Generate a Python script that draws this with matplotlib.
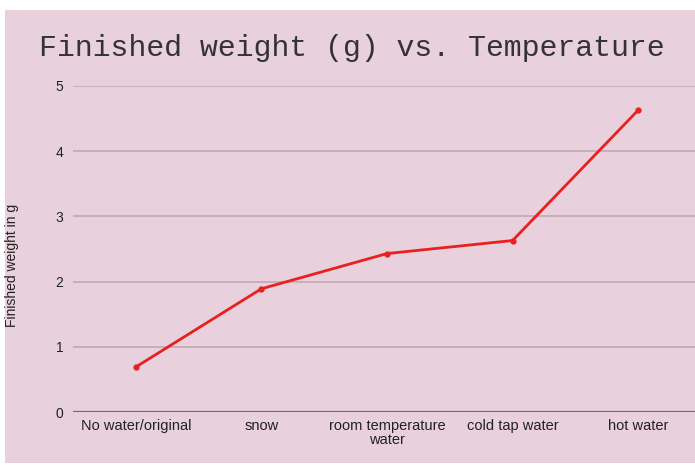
import numpy as np
import matplotlib.pyplot as plt
from matplotlib.patches import Rectangle

plt.rcParams.update({"font.family": ["Liberation Sans", "DejaVu Sans"]})

categories = ["No water/original", "snow", "room temperature\nwater",
              "cold tap water", "hot water"]
weights = [0.69, 1.89, 2.43, 2.63, 4.63]
yticks = [0, 1, 2, 3, 4, 5]

bg = "#e8d0dc"
W, H = 695, 465

fig = plt.figure(figsize=(W / 100, H / 100), dpi=100, facecolor="white")
# pink card with thin white border like the screenshot
fig.patches.append(Rectangle((5 / W, 2 / H), 1 - 5 / W, 1 - 12 / H,
                             transform=fig.transFigure, facecolor=bg,
                             edgecolor="none", zorder=-5))

# axes: x from 73px to ~701px, y from 412px (0) to 86px (5)
ax = fig.add_axes([73 / W, (H - 412) / H, (701 - 73) / W, (412 - 86) / H])
ax.set_facecolor("none")

x = np.arange(len(categories))
ax.plot(x, weights, color="#e8201f", lw=2, marker="o", ms=3.5, zorder=3)

ax.set_xlim(-0.5, len(categories) - 0.5)
ax.set_ylim(0, 5)
ax.set_yticks(yticks)
ax.set_xticks(x)
ax.set_xticklabels(categories, fontsize=10.5, color="#222222", linespacing=1.0)
ax.set_yticklabels([str(v) for v in yticks], fontsize=10, color="#222222")
ax.tick_params(length=0, pad=7)
ax.tick_params(axis="x", pad=5)

for v in yticks[1:]:
    ax.axhline(v, color="#c4a6b3", lw=1.2, zorder=1)
ax.axhline(0, color="#7a6670", lw=1.6, zorder=2)
for s in ax.spines.values():
    s.set_visible(False)

fig.text(12 / W, 1 - 265 / H, "Finished weight in g", rotation=90,
         ha="center", va="center", fontsize=10, color="#222222")
fig.text(352 / W, 1 - 48 / H, "Finished weight (g) vs. Temperature",
         family="Liberation Mono", fontsize=21.5, ha="center", va="center",
         color="#333333")

fig.savefig("out.png", dpi=100, facecolor="white")
